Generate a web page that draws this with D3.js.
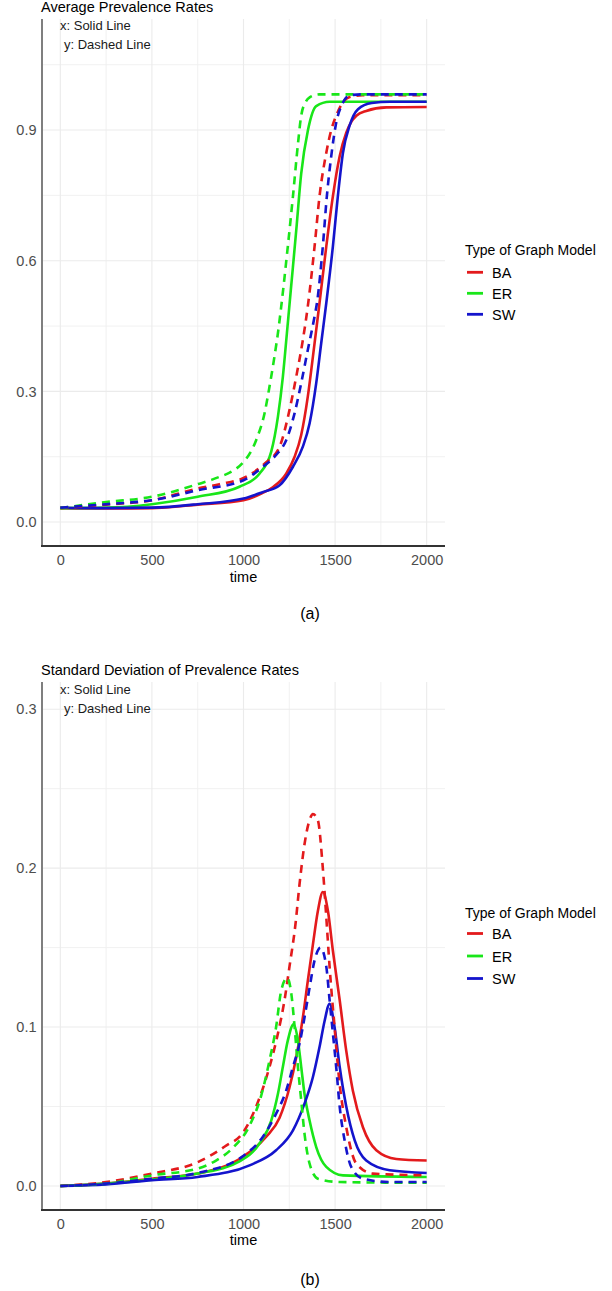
<!DOCTYPE html>
<html><head><meta charset="utf-8">
<script src="https://cdn.jsdelivr.net/npm/d3@7"></script>
<style>body{margin:0;background:#fff} svg text{font-family:"Liberation Sans",Arial,sans-serif}</style>
</head><body><svg id="c" width="612" height="1291"></svg>
<script>
// ---------- data ----------
const categories = ["BA", "ER", "SW"];
const xTicks = [0, 500, 1000, 1500, 2000];
const xMinor = [250, 750, 1250, 1750];
const avgYTicks = [0, 0.3, 0.6, 0.9];
const avgYMinor = [0.15, 0.45, 0.75, 1.05];
const sdYTicks = [0, 0.1, 0.2, 0.3];
const sdYMinor = [0.05, 0.15, 0.25];

// Average prevalence, x = solid, y = dashed   [time, value]
const avgBA_x = [[0,0.032],[250,0.031],[500,0.032],[750,0.040],[1000,0.050],[1100,0.066],[1160,0.080],[1233,0.111],[1279,0.150],[1315,0.200],[1351,0.288],[1379,0.380],[1406,0.472],[1415,0.503],[1452,0.633],[1488,0.748],[1525,0.840],[1561,0.894],[1590,0.920],[1616,0.933],[1670,0.944],[1780,0.952],[2000,0.953]];
const avgER_x = [[0,0.032],[250,0.033],[500,0.041],[750,0.058],[978,0.081],[1087,0.111],[1151,0.161],[1188,0.242],[1215,0.334],[1237,0.434],[1261,0.545],[1288,0.670],[1315,0.800],[1352,0.900],[1397,0.955],[1470,0.965],[2000,0.965]];
const avgSW_x = [[0,0.033],[250,0.032],[500,0.033],[750,0.041],[1000,0.054],[1100,0.068],[1197,0.0845],[1270,0.127],[1324,0.173],[1361,0.227],[1397,0.319],[1424,0.410],[1452,0.503],[1488,0.633],[1515,0.748],[1543,0.848],[1579,0.910],[1625,0.948],[1700,0.962],[1800,0.965],[2000,0.965]];
const avgBA_y = [[0,0.032],[250,0.040],[500,0.050],[750,0.077],[869,0.087],[1015,0.104],[1115,0.134],[1197,0.173],[1251,0.257],[1288,0.334],[1324,0.418],[1351,0.495],[1388,0.633],[1415,0.748],[1452,0.848],[1479,0.900],[1506,0.933],[1540,0.962],[1580,0.976],[1650,0.980],[2000,0.980]];
const avgER_y = [[0,0.032],[250,0.046],[500,0.058],[750,0.087],[832,0.098],[1000,0.138],[1069,0.188],[1115,0.250],[1142,0.311],[1169,0.380],[1188,0.434],[1206,0.495],[1242,0.633],[1270,0.748],[1297,0.867],[1315,0.933],[1340,0.965],[1361,0.975],[1415,0.982],[2000,0.982]];
const avgSW_y = [[0,0.033],[250,0.041],[500,0.050],[750,0.073],[1000,0.096],[1106,0.127],[1178,0.154],[1233,0.188],[1279,0.250],[1315,0.319],[1351,0.395],[1388,0.472],[1401,0.503],[1433,0.633],[1455,0.748],[1479,0.840],[1503,0.910],[1543,0.963],[1580,0.980],[1650,0.982],[2000,0.982]];

// Standard deviation of prevalence, x = solid, y = dashed
const sdBA_x = [[0,0],[250,0.0015],[500,0.0046],[750,0.0078],[978,0.017],[1124,0.031],[1197,0.043],[1251,0.062],[1288,0.081],[1324,0.106],[1351,0.129],[1379,0.152],[1406,0.173],[1433,0.185],[1461,0.173],[1488,0.148],[1525,0.117],[1561,0.085],[1597,0.060],[1652,0.037],[1725,0.0225],[1834,0.017],[2000,0.016]];
const sdER_x = [[0,0],[250,0.0015],[500,0.004],[750,0.0078],[978,0.0155],[1087,0.0267],[1151,0.041],[1188,0.058],[1215,0.075],[1242,0.0916],[1273,0.1017],[1297,0.0916],[1315,0.075],[1333,0.058],[1361,0.041],[1397,0.0245],[1452,0.012],[1543,0.0067],[2000,0.0057]];
const sdSW_x = [[0,0],[250,0.001],[500,0.0036],[750,0.0057],[1033,0.013],[1178,0.0225],[1270,0.035],[1333,0.0518],[1379,0.0686],[1415,0.0874],[1443,0.104],[1470,0.1147],[1497,0.100],[1525,0.075],[1561,0.050],[1607,0.0287],[1670,0.016],[1798,0.0099],[2000,0.0082]];
const sdBA_y = [[0,0],[250,0.0025],[500,0.0078],[750,0.015],[900,0.025],[1000,0.034],[1069,0.050],[1142,0.075],[1188,0.096],[1224,0.117],[1251,0.138],[1284,0.165],[1306,0.190],[1333,0.215],[1360,0.230],[1379,0.234],[1406,0.230],[1433,0.200],[1452,0.169],[1470,0.138],[1497,0.100],[1525,0.064],[1561,0.037],[1616,0.014],[1706,0.0078],[2000,0.0067]];
const sdER_y = [[0,0],[250,0.0015],[500,0.0067],[750,0.011],[850,0.016],[942,0.024],[1033,0.038],[1097,0.057],[1142,0.079],[1178,0.100],[1206,0.123],[1239,0.131],[1261,0.121],[1279,0.100],[1297,0.075],[1315,0.054],[1333,0.033],[1361,0.014],[1406,0.0046],[1525,0.0025],[2000,0.002]];
const sdSW_y = [[0,0],[250,0.0015],[500,0.0046],[750,0.0082],[1000,0.019],[1106,0.031],[1178,0.0455],[1233,0.060],[1270,0.075],[1306,0.0896],[1333,0.106],[1361,0.125],[1388,0.142],[1421,0.150],[1452,0.138],[1470,0.117],[1488,0.096],[1506,0.075],[1525,0.050],[1552,0.0287],[1588,0.012],[1652,0.0046],[1798,0.0025],[2000,0.0025]];

// ---------- drawing ----------
const colors = {BA: "#e31a1c", ER: "#19e619", SW: "#1414cc"};
const svg = d3.select("#c");
svg.append("rect").attr("width", 612).attr("height", 1291).attr("fill", "#fff");

function panel(cfg) {
  const g = svg.append("g");
  const x = d3.scaleLinear().domain([-100, 2100]).range([42, 445]);
  const y = d3.scaleLinear().domain(cfg.yDomain).range([cfg.bottom, cfg.top]);
  // grid
  g.selectAll(".mx").data(xMinor).join("line").attr("x1", d => x(d)).attr("x2", d => x(d))
    .attr("y1", cfg.top).attr("y2", cfg.bottom).attr("stroke", "#efefef").attr("stroke-width", 0.9);
  g.selectAll(".my").data(cfg.yMinor).join("line").attr("y1", d => y(d)).attr("y2", d => y(d))
    .attr("x1", 42).attr("x2", 445).attr("stroke", "#efefef").attr("stroke-width", 0.9);
  g.selectAll(".Mx").data(xTicks).join("line").attr("x1", d => x(d)).attr("x2", d => x(d))
    .attr("y1", cfg.top).attr("y2", cfg.bottom).attr("stroke", "#ebebeb").attr("stroke-width", 1.1);
  g.selectAll(".My").data(cfg.yTicks).join("line").attr("y1", d => y(d)).attr("y2", d => y(d))
    .attr("x1", 42).attr("x2", 445).attr("stroke", "#ebebeb").attr("stroke-width", 1.1);

  // axes (labels via d3 axes)
  const ax = g.append("g").attr("transform", `translate(0,${cfg.bottom})`)
    .call(d3.axisBottom(x).tickValues(xTicks).tickSize(0).tickPadding(9).tickFormat(d3.format("d")));
  const ay = g.append("g").attr("transform", `translate(42,0)`)
    .call(d3.axisLeft(y).tickValues(cfg.yTicks).tickSize(0).tickPadding(6).tickFormat(d3.format(".1f")));
  [ax, ay].forEach(a => {
    a.select(".domain").remove();
    a.selectAll("text").attr("fill", "#4d4d4d").attr("font-size", 14.5)
      .attr("font-family", '"Liberation Sans",Arial,sans-serif');
  });
  ay.selectAll("text").attr("x", -5.5);

  // lines
  const line = d3.line().x(d => x(d[0])).y(d => y(d[1])).curve(d3.curveMonotoneX);
  categories.forEach(c => {
    g.append("path").datum(cfg.solid[c]).attr("d", line).attr("fill", "none")
      .attr("stroke", colors[c]).attr("stroke-width", 2.6).attr("stroke-linejoin", "round");
  });
  categories.forEach(c => {
    g.append("path").datum(cfg.dashed[c]).attr("d", line).attr("fill", "none")
      .attr("stroke", colors[c]).attr("stroke-width", 2.6).attr("stroke-dasharray", "8,6");
  });

  // axis lines
  g.append("line").attr("x1", 42).attr("x2", 42).attr("y1", cfg.top).attr("y2", cfg.bottom + 1)
    .attr("stroke", "#7f7f7f").attr("stroke-width", 2);
  g.append("line").attr("x1", 41).attr("x2", 445).attr("y1", cfg.bottom).attr("y2", cfg.bottom)
    .attr("stroke", "#333", ).attr("stroke-width", 1.8);

  // titles
  g.append("text").attr("x", 41).attr("y", cfg.titleY).attr("font-size", 14.5).attr("fill", "#000").text(cfg.title);
  g.append("text").attr("x", 243.5).attr("y", cfg.xTitleY).attr("text-anchor", "middle")
    .attr("font-size", 14.5).attr("fill", "#000").text("time");
  g.append("text").attr("x", 60).attr("y", cfg.ann1Y).attr("font-size", 13).attr("fill", "#1a1a1a").text("x: Solid Line");
  g.append("text").attr("x", 64).attr("y", cfg.ann2Y).attr("font-size", 13).attr("fill", "#1a1a1a").text("y: Dashed Line");

  // legend
  const lg = g.append("g");
  lg.append("text").attr("x", 465).attr("y", cfg.legTitleY).attr("font-size", 14).attr("fill", "#000").text("Type of Graph Model");
  categories.forEach((c, i) => {
    const ky = cfg.legKeyY + i * cfg.legStep;
    lg.append("line").attr("x1", 467).attr("x2", 483).attr("y1", ky).attr("y2", ky)
      .attr("stroke", colors[c]).attr("stroke-width", 2.8);
    lg.append("text").attr("x", 492).attr("y", ky + 5.5).attr("font-size", 14.5).attr("fill", "#000").text(c);
  });

  // caption
  svg.append("text").attr("x", 310).attr("y", cfg.capY).attr("text-anchor", "middle")
    .attr("font-family", '"Liberation Serif","Times New Roman",serif').attr("font-size", 16).text(cfg.caption);
}

panel({
  top: 19, bottom: 546, yDomain: [-0.055, 1.155], yTicks: avgYTicks, yMinor: avgYMinor,
  solid: {BA: avgBA_x, ER: avgER_x, SW: avgSW_x}, dashed: {BA: avgBA_y, ER: avgER_y, SW: avgSW_y},
  title: "Average Prevalence Rates", titleY: 12, xTitleY: 582, ann1Y: 30, ann2Y: 49,
  legTitleY: 255, legKeyY: 272.3, legStep: 21, capY: 619, caption: "(a)"
});
panel({
  top: 682, bottom: 1210, yDomain: [-0.0151, 0.3171], yTicks: sdYTicks, yMinor: sdYMinor,
  solid: {BA: sdBA_x, ER: sdER_x, SW: sdSW_x}, dashed: {BA: sdBA_y, ER: sdER_y, SW: sdSW_y},
  title: "Standard Deviation of Prevalence Rates", titleY: 675, xTitleY: 1245, ann1Y: 694, ann2Y: 713,
  legTitleY: 918, legKeyY: 933.5, legStep: 22.5, capY: 1285, caption: "(b)"
});
</script></body></html>
